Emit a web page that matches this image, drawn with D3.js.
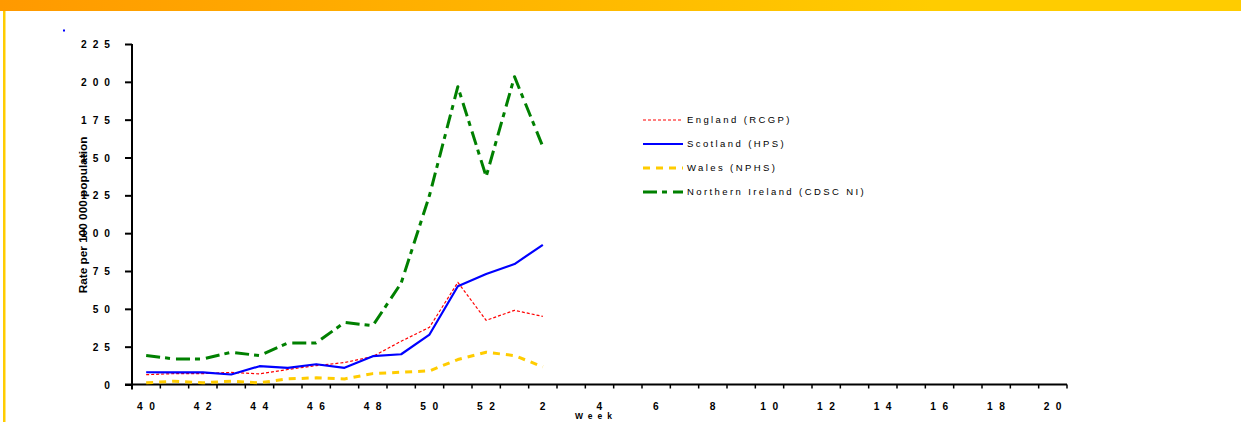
<!DOCTYPE html>
<html>
<head>
<meta charset="utf-8">
<script src="https://cdn.jsdelivr.net/npm/d3@7"></script>
<style>
  body { margin: 0; background: #fff; overflow: hidden; }
  svg { display: block; font-family: "Liberation Sans", Arial, sans-serif; }
  .tick text { font-weight: bold; font-size: 10.2px; fill: #000; }
</style>
</head>
<body>
<script>
var width = 1241,
    height = 422;

// weeks on the x axis (season 40 .. 20)
var weeks = [40, 41, 42, 43, 44, 45, 46, 47, 48, 49, 50, 51, 52,
             1, 2, 3, 4, 5, 6, 7, 8, 9, 10, 11, 12, 13, 14, 15, 16, 17, 18, 19, 20];
var weekLabels = [40, 42, 44, 46, 48, 50, 52, 2, 4, 6, 8, 10, 12, 14, 16, 18, 20];
var dataWeeks = [40, 41, 42, 43, 44, 45, 46, 47, 48, 49, 50, 51, 52, 1, 2];
var yTicks = [0, 25, 50, 75, 100, 125, 150, 175, 200, 225];

var england  = [6.5, 7.2, 7.2, 8, 7, 9.9, 12.5, 14.5, 18.5, 28.6, 37.8, 67.5, 42.4, 49, 45];
var scotland = [8.1, 8, 8, 6.6, 12.1, 11, 13.4, 11, 18.7, 20, 33, 64.9, 73, 79.6, 92.3];
var wales    = [1.1, 2.2, 1.1, 2.2, 1.1, 3.7, 4.4, 3.7, 7.2, 8.1, 9, 16.5, 21.3, 19.1, 11.7];
var nireland = [19.1, 16.9, 16.9, 21.3, 19.1, 27.5, 27.5, 41, 38.9, 67, 125, 196.8, 137.4, 203.4, 157.2];

var seriesNames = ["England (RCGP)", "Scotland (HPS)", "Wales (NPHS)", "Northern Ireland (CDSC NI)"];

var series = [
    {name: seriesNames[0], values: england,  color: "#FF0000", width: 1.2, dash: "3,2"},
    {name: seriesNames[1], values: scotland, color: "#0000FF", width: 2.2, dash: null},
    {name: seriesNames[2], values: wales,    color: "#FFCC00", width: 3,   dash: "7,6"},
    {name: seriesNames[3], values: nireland, color: "#008000", width: 3,   dash: "14,5,5,6"}
];

var svg = d3.select("body").append("svg")
    .attr("width", width)
    .attr("height", height);

// top banner + left border
var grad = svg.append("defs").append("linearGradient")
    .attr("id", "banner")
    .attr("x1", "0%").attr("x2", "100%");
grad.append("stop").attr("offset", "0%").attr("stop-color", "#FF9900");
grad.append("stop").attr("offset", "75%").attr("stop-color", "#FFCC00");
grad.append("stop").attr("offset", "100%").attr("stop-color", "#FFCC00");

svg.append("rect")
    .attr("x", 0).attr("y", 0)
    .attr("width", width).attr("height", 11)
    .attr("fill", "url(#banner)");
svg.append("rect")
    .attr("x", 3).attr("y", 11)
    .attr("width", 2.5).attr("height", height - 11)
    .attr("fill", "#FFCC00");
svg.append("rect")
    .attr("x", 63).attr("y", 29.5)
    .attr("width", 2).attr("height", 2)
    .attr("fill", "#0000FF");

var x = d3.scaleBand()
    .domain(weeks)
    .range([132, 1067])
    .padding(0);

var y = d3.scaleLinear()
    .domain([0, 225])
    .range([384.5, 44]);

function cx(w) { return x(w) + x.bandwidth() / 2; }

// y axis
var yAxis = svg.append("g")
    .attr("transform", "translate(132,0)")
    .call(d3.axisLeft(y).tickValues(yTicks).tickSize(7).tickPadding(9).tickSizeOuter(0));
yAxis.select(".domain").attr("stroke-width", 2).attr("d", "M0," + (y(225)) + "V" + (y(0) + 5));
yAxis.selectAll(".tick line").attr("stroke-width", 2);
yAxis.selectAll(".tick text").style("letter-spacing", "6px").attr("dy", "0.35em");

// x axis
var xAxis = svg.append("g")
    .attr("transform", "translate(0," + y(0) + ")")
    .call(d3.axisBottom(x).tickValues(weekLabels).tickSize(0).tickPadding(18).tickSizeOuter(0));
xAxis.select(".domain").attr("stroke-width", 2).attr("d", "M125,0H" + x.range()[1]);
xAxis.selectAll(".tick text").style("letter-spacing", "6.5px").attr("dx", "3px");

var bounds = weeks.map(function (w) { return x(w); }).concat([x.range()[1]]);
xAxis.selectAll("line.bound")
    .data(bounds.slice(1))
    .enter().append("line")
    .attr("class", "bound")
    .attr("x1", function (d) { return d; })
    .attr("x2", function (d) { return d; })
    .attr("y1", 0).attr("y2", 4)
    .attr("stroke", "#000").attr("stroke-width", 1.5);

// axis titles
svg.append("text")
    .attr("transform", "translate(87," + 215 + ") rotate(-90)")
    .attr("text-anchor", "middle")
    .style("font-weight", "bold")
    .style("font-size", "11.8px")
    .text("Rate per 100 000 population");

svg.append("text")
    .attr("x", 596).attr("y", 419)
    .attr("text-anchor", "middle")
    .style("font-weight", "bold")
    .style("font-size", "8.5px")
    .style("letter-spacing", "5px")
    .text("Week");

// lines
var line = d3.line()
    .x(function (d, i) { return cx(dataWeeks[i]); })
    .y(function (d) { return y(d); });

svg.append("g")
    .selectAll("path")
    .data(series)
    .enter().append("path")
    .attr("fill", "none")
    .attr("stroke", function (d) { return d.color; })
    .attr("stroke-width", function (d) { return d.width; })
    .attr("stroke-dasharray", function (d) { return d.dash; })
    .attr("stroke-linejoin", "round")
    .attr("d", function (d) { return line(d.values); });

// legend
var legend = svg.append("g")
    .selectAll("g")
    .data(series)
    .enter().append("g")
    .attr("transform", function (d, i) { return "translate(643," + [120, 144, 168, 192][i] + ")"; });

legend.append("line")
    .attr("x1", 0).attr("x2", 40)
    .attr("stroke", function (d) { return d.color; })
    .attr("stroke-width", function (d) { return d.width; })
    .attr("stroke-dasharray", function (d) { return d.dash; });

legend.append("text")
    .attr("x", 44).attr("y", 3.3)
    .style("font-size", "9.5px")
    .style("letter-spacing", "2.4px")
    .text(function (d) { return d.name; });
</script>
</body>
</html>
